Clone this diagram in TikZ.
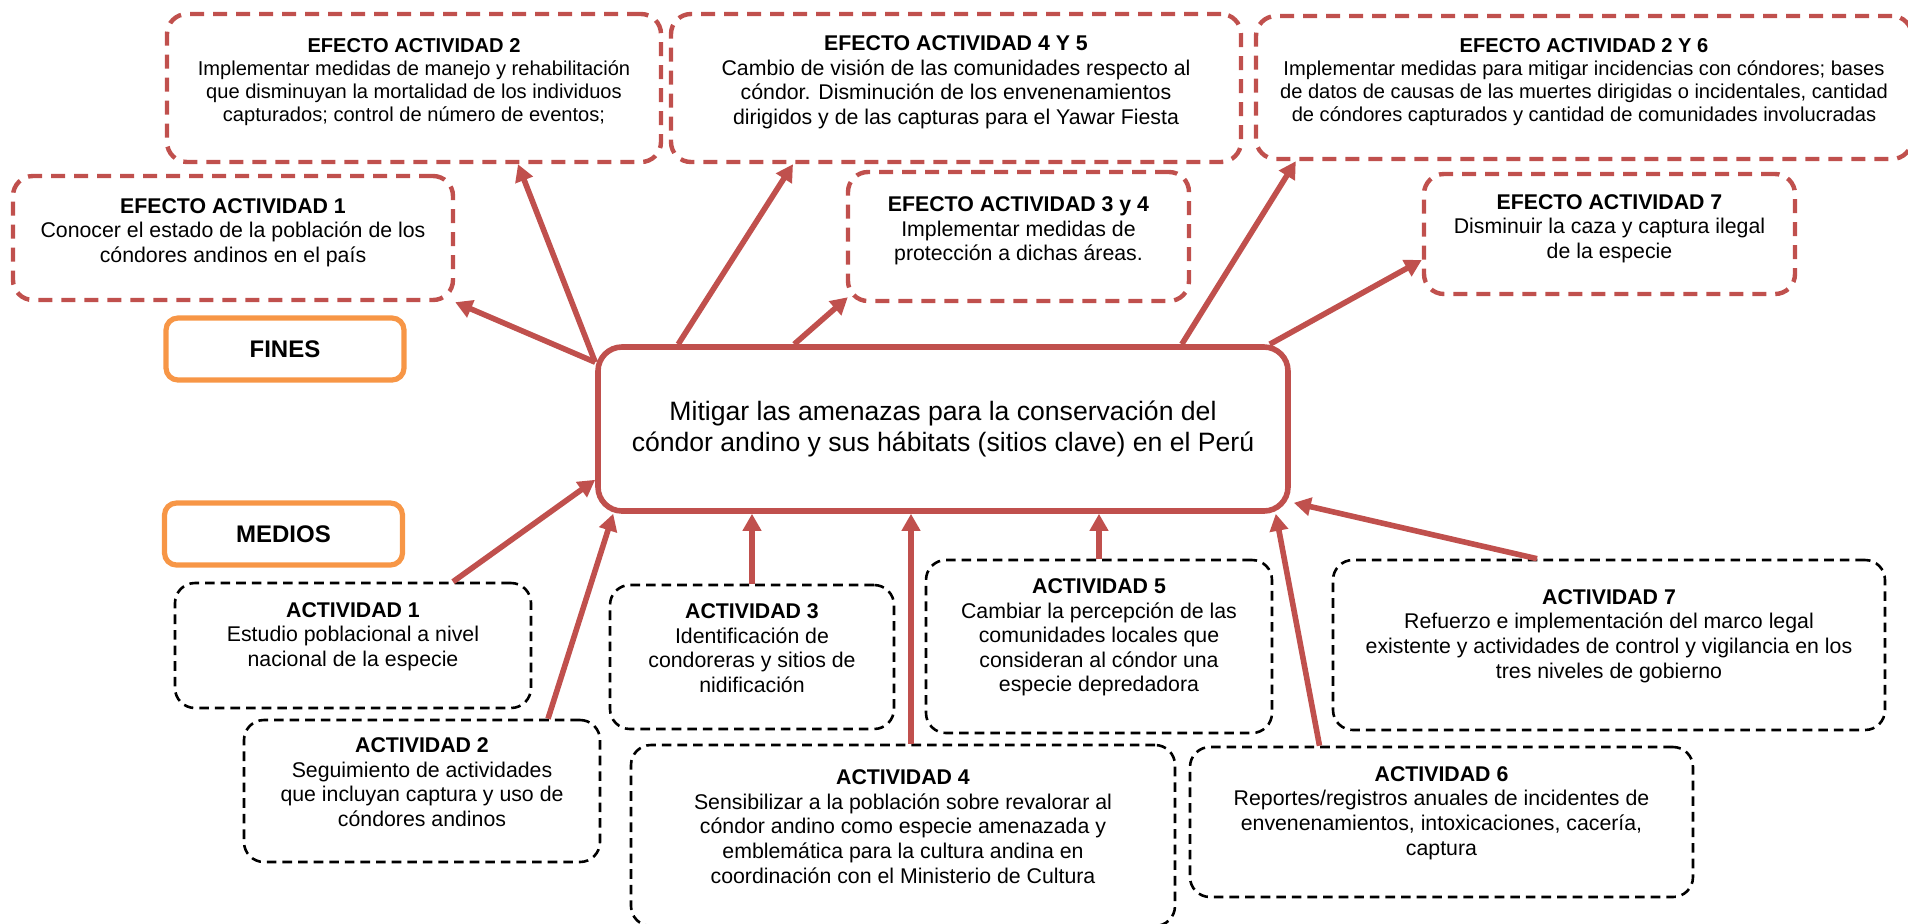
\documentclass[tikz,border=0pt]{standalone}
\usepackage{fontspec}
\setmainfont{Liberation Sans}
\usepackage{tikz}
\usetikzlibrary{arrows.meta}
\definecolor{rojo}{HTML}{C0504D}
\definecolor{naranja}{HTML}{F79646}
\tikzset{
	efecto/.style = {draw=rojo, line width=2.2pt, dash pattern=on 7pt off 4.5pt, rounded corners=10pt},
	actividad/.style = {draw=black, line width=1.3pt, dash pattern=on 4.8pt off 3pt, rounded corners=10pt},
	texto/.style = {align=center, font=\fontsize{10.65}{12.3}\selectfont},
	txtef/.style = {texto, yshift=2.8pt},
	txtact/.style = {texto, yshift=4.5pt},
	chico/.style = {font=\fontsize{10.05}{11.5}\selectfont},
	marco/.style = {draw=naranja, line width=2.6pt, rounded corners=6pt, minimum width=119pt, minimum height=31pt, font=\fontsize{12}{14}\selectfont\bfseries},
	meta/.style = {draw=rojo, line width=2.8pt, rounded corners=12pt, minimum width=345pt, minimum height=82pt, align=center, font=\fontsize{13.3}{15.8}\selectfont},
	flecha/.style = {draw=rojo, line width=2.8pt, -{Triangle[length=8.5pt,width=9pt]}}
}
\begin{document}
\begin{tikzpicture}[x=0.5pt, y=-0.5pt]
	\useasboundingbox (0,0) rectangle (1908,923);

	\node[efecto, minimum width=247pt, minimum height=74pt, label={[txtef, chico]center:{\textbf{EFECTO ACTIVIDAD 2}\\Implementar medidas de manejo y rehabilitación\\que disminuyan la mortalidad de los individuos\\capturados; control de número de eventos;}}] (ef2) at (414,88) {};
	\node[efecto, minimum width=285pt, minimum height=74pt, label={[txtef]center:{\textbf{EFECTO ACTIVIDAD 4 Y 5}\\Cambio de visión de las comunidades respecto al\\cóndor. Disminución de los envenenamientos\\dirigidos y de las capturas para el Yawar Fiesta}}] (ef45) at (956,88) {};
	\node[efecto, minimum width=328pt, minimum height=71.5pt, label={[txtef, chico]center:{\textbf{EFECTO ACTIVIDAD 2 Y 6}\\Implementar medidas para mitigar incidencias con cóndores; bases\\de datos de causas de las muertes dirigidas o incidentales, cantidad\\de cóndores capturados y cantidad de comunidades involucradas}}] (ef26) at (1584,87.5) {};
	\node[efecto, minimum width=220pt, minimum height=62pt, label={[txtef]center:{\textbf{EFECTO ACTIVIDAD 1}\\Conocer el estado de la población de los\\cóndores andinos en el país}}] (ef1) at (233,238) {};
	\node[efecto, minimum width=170.5pt, minimum height=64.5pt, label={[txtef]center:{\textbf{EFECTO ACTIVIDAD 3 y 4}\\Implementar medidas de\\protección a dichas áreas.}}] (ef34) at (1018.5,236.5) {};
	\node[efecto, minimum width=185.5pt, minimum height=60pt, label={[txtef]center:{\textbf{EFECTO ACTIVIDAD 7}\\Disminuir la caza y captura ilegal\\de la especie}}] (ef7) at (1609.5,234) {};

	\node[marco] (fines) at (285,349) {FINES};
	\node[marco] (medios) at (283.5,534) {MEDIOS};

	\node[meta] (meta) at (943,429) {Mitigar las amenazas para la conservación del\\cóndor andino y sus hábitats (sitios clave) en el Perú};

	\node[actividad, minimum width=178pt, minimum height=62.5pt, label={[txtact]center:{\textbf{ACTIVIDAD 1}\\Estudio poblacional a nivel\\nacional de la especie}}] (act1) at (353,645.5) {};
	\node[actividad, minimum width=178pt, minimum height=71pt, label={[txtact]center:{\textbf{ACTIVIDAD 2}\\Seguimiento de actividades\\que incluyan captura y uso de\\cóndores andinos}}] (act2) at (422,791) {};
	\node[actividad, minimum width=142pt, minimum height=72pt, label={[txtact]center:{\textbf{ACTIVIDAD 3}\\Identificación de\\condoreras y sitios de\\nidificación}}] (act3) at (752,657) {};
	\node[actividad, minimum width=272pt, minimum height=90.5pt, label={[txtact]center:{\textbf{ACTIVIDAD 4}\\Sensibilizar a la población sobre revalorar al\\cóndor andino como especie amenazada y\\emblemática para la cultura andina en\\coordinación con el Ministerio de Cultura}}] (act4) at (903,835.5) {};
	\node[actividad, minimum width=173pt, minimum height=86.5pt, label={[txtact]center:{\textbf{ACTIVIDAD 5}\\Cambiar la percepción de las\\comunidades locales que\\consideran al cóndor una\\especie depredadora}}] (act5) at (1099,646.5) {};
	\node[actividad, minimum width=251.5pt, minimum height=75pt, label={[txtact]center:{\textbf{ACTIVIDAD 6}\\Reportes/registros anuales de incidentes de\\envenenamientos, intoxicaciones, cacería,\\captura}}] (act6) at (1441.5,822) {};
	\node[actividad, minimum width=276pt, minimum height=85pt, label={[txtact]center:{\textbf{ACTIVIDAD 7}\\Refuerzo e implementación del marco legal\\existente y actividades de control y vigilancia en los\\tres niveles de gobierno}}] (act7) at (1609,645) {};

	\draw[flecha] ([shift={(0,18)}]meta.north west) -- (ef1.south east);
	\draw[flecha] ([shift={(0,18)}]meta.north west) -- ([shift={(104,0)}]ef2.south);
	\draw[flecha] ([shift={(83,0)}]meta.north west) -- ([shift={(-163,0)}]ef45.south);
	\draw[flecha] ([shift={(199,0)}]meta.north west) -- ([shift={(2,-6)}]ef34.south west);
	\draw[flecha] ([shift={(-109,0)}]meta.north east) -- ([shift={(42,0)}]ef26.south west);
	\draw[flecha] ([shift={(-21,0)}]meta.north east) -- ([shift={(0,26)}]ef7.west);

	\draw[flecha] ([shift={(100,0)}]act1.north) -- ([shift={(0,-34)}]meta.south west);
	\draw[flecha] ([shift={(126,0)}]act2.north) -- ([shift={(18,0)}]meta.south west);
	\draw[flecha] (act3.north) -- (act3.north |- meta.south);
	\draw[flecha] ([shift={(8,0)}]act4.north) -- ([shift={(-32,0)}]meta.south);
	\draw[flecha] (act5.north) -- (act5.north |- meta.south);
	\draw[flecha] ([shift={(-122,0)}]act6.north) -- ([shift={(-15,0)}]meta.south east);
	\draw[flecha] ([shift={(-72,0)}]act7.north) -- ([shift={(3,-11)}]meta.south east);

\end{tikzpicture}
\end{document}
